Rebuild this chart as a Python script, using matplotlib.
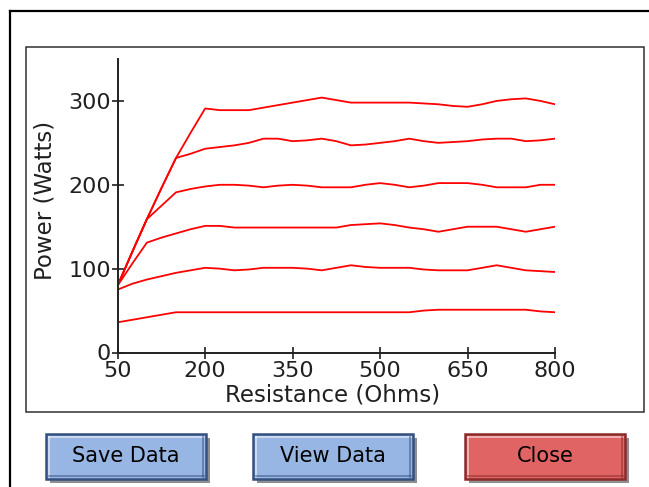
import matplotlib
matplotlib.use('Agg')
import matplotlib.pyplot as plt
from matplotlib.patches import Rectangle
from matplotlib.lines import Line2D

# 电阻取值 (Ohms)
resistance = [50, 75, 100, 125, 150, 175, 200, 225, 250, 275, 300, 325, 350, 375, 400,
              425, 450, 475, 500, 525, 550, 575, 600, 625, 650, 675, 700, 725, 750, 775, 800]

# 各条功率曲线 (Watts)
power_1 = [80, 120, 159, 196, 232, 262, 291, 289, 289, 289, 292, 295, 298, 301, 304,
           301, 298, 298, 298, 298, 298, 297, 296, 294, 293, 296, 300, 302, 303, 300, 296]
power_2 = [80, 120, 159, 196, 232, 237, 243, 245, 247, 250, 255, 255, 252, 253, 255,
           252, 247, 248, 250, 252, 255, 252, 250, 251, 252, 254, 255, 255, 252, 253, 255]
power_3 = [80, 120, 159, 175, 191, 195, 198, 200, 200, 199, 197, 199, 200, 199, 197,
           197, 197, 200, 202, 200, 197, 199, 202, 202, 202, 200, 197, 197, 197, 200, 200]
power_4 = [80, 106, 131, 137, 142, 147, 151, 151, 149, 149, 149, 149, 149, 149, 149,
           149, 152, 153, 154, 152, 149, 147, 144, 147, 150, 150, 150, 147, 144, 147, 150]
power_5 = [75, 82, 87, 91, 95, 98, 101, 100, 98, 99, 101, 101, 101, 100, 98,
           101, 104, 102, 101, 101, 101, 99, 98, 98, 98, 101, 104, 101, 98, 97, 96]
power_6 = [36, 39, 42, 45, 48, 48, 48, 48, 48, 48, 48, 48, 48, 48, 48,
           48, 48, 48, 48, 48, 48, 50, 51, 51, 51, 51, 51, 51, 51, 49, 48]

x_ticks = [50, 200, 350, 500, 650, 800]
y_ticks = [0, 100, 200, 300]

buttons = ['Save Data', 'View Data', 'Close']

W, H = 649, 487


def fx(x):
    return x / W


def fy(y):
    return 1 - y / H


fig = plt.figure(figsize=(W / 100, H / 100), dpi=100)
fig.patch.set_facecolor('white')

# 外框
fig.add_artist(Line2D([fx(10), fx(649)], [fy(11), fy(11)], color='black', lw=1.6))
fig.add_artist(Line2D([fx(10), fx(10)], [fy(11), fy(487)], color='black', lw=1.6))

# 图表框
fig.add_artist(Rectangle((fx(25.7), fy(412)), fx(644) - fx(25.7), fy(47) - fy(412),
                         fill=False, edgecolor='#303030', lw=1.1))

ax = fig.add_axes([fx(117.7), fy(352.5), fx(555) - fx(117.7), fy(59) - fy(352.5)])
for p in [power_1, power_2, power_3, power_4, power_5, power_6]:
    ax.plot(resistance, p, color='#ff0000', lw=1.3)

ax.set_xlim(50, 800)
ax.set_ylim(0, 350)
ax.set_xticks(x_ticks)
ax.set_yticks(y_ticks)
for s in ['top', 'right']:
    ax.spines[s].set_visible(False)
for s in ['left', 'bottom']:
    ax.spines[s].set_color('#202020')
    ax.spines[s].set_linewidth(1.4)
ax.tick_params(direction='inout', length=8, width=1.2, color='#202020',
               labelsize=16, labelcolor='#202020')
ax.tick_params(axis='x', pad=2)
ax.tick_params(axis='y', pad=1)

ax.set_xlabel('Resistance (Ohms)', fontsize=16.5, color='#202020')
ax.set_ylabel('Power (Watts)', fontsize=16.5, color='#202020')
ax.xaxis.set_label_coords((333 - 117.7) / 437.3, (352.5 - 384) / 293.5)
ax.yaxis.set_label_coords((56 - 117.7) / 437.3, (352.5 - 200) / 293.5)

# 按钮
btn_x = [46, 253, 465]
btn_face = ['#98b6e4', '#98b6e4', '#e06464']
btn_edge = ['#34507e', '#34507e', '#8a2a2a']
bw, bh = 160, 45
by = 434
for label, x0, fc, ec in zip(buttons, btn_x, btn_face, btn_edge):
    fig.add_artist(Rectangle((fx(x0 + 4), fy(by + bh + 4)), fx(bw), bh / H,
                             facecolor='#606060', edgecolor='none', alpha=0.7))
    fig.add_artist(Rectangle((fx(x0), fy(by + bh)), fx(bw), bh / H,
                             facecolor=fc, edgecolor=ec, lw=1.8))
    fig.add_artist(Line2D([fx(x0 + 2.5), fx(x0 + bw - 2.5)], [fy(by + 3), fy(by + 3)],
                          color='white', lw=1.2, alpha=0.6))
    fig.add_artist(Line2D([fx(x0 + 3), fx(x0 + 3)], [fy(by + 2.5), fy(by + bh - 2.5)],
                          color='white', lw=1.2, alpha=0.6))
    fig.add_artist(Line2D([fx(x0 + 2.5), fx(x0 + bw - 2.5)],
                          [fy(by + bh - 3), fy(by + bh - 3)],
                          color=ec, lw=1.2, alpha=0.6))
    fig.add_artist(Line2D([fx(x0 + bw - 3), fx(x0 + bw - 3)],
                          [fy(by + 2.5), fy(by + bh - 2.5)],
                          color=ec, lw=1.2, alpha=0.6))
    fig.text(fx(x0 + bw / 2), fy(by + bh / 2), label, ha='center', va='center',
             fontsize=15, color='black')

fig.savefig('out.png', dpi=100)
